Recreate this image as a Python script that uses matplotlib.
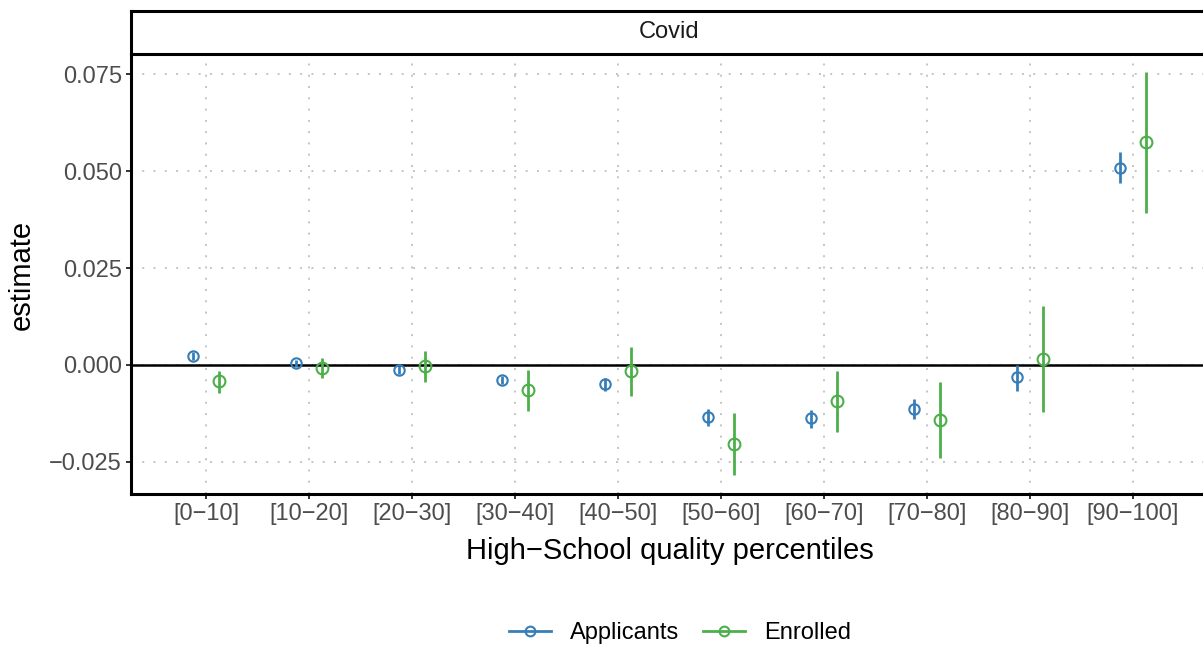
import matplotlib
matplotlib.use("Agg")
import matplotlib.pyplot as plt
from matplotlib.lines import Line2D
import numpy as np

plt.rcParams['font.family'] = ['Liberation Sans', 'DejaVu Sans']

categories = ["[0−10]", "[10−20]", "[20−30]", "[30−40]", "[40−50]",
              "[50−60]", "[60−70]", "[70−80]", "[80−90]", "[90−100]"]

app_est = [0.0024, 0.0004, -0.0013, -0.0038, -0.0050, -0.0135, -0.0138, -0.0114, -0.0032, 0.0509]
app_lo = [0.0014, -0.0005, -0.0023, -0.0048, -0.0066, -0.0157, -0.0162, -0.0140, -0.0066, 0.0468]
app_hi = [0.0034, 0.0013, -0.0003, -0.0028, -0.0034, -0.0114, -0.0116, -0.0088, 0.0000, 0.0550]

enr_est = [-0.0042, -0.0008, -0.0004, -0.0065, -0.0016, -0.0204, -0.0094, -0.0141, 0.0016, 0.0576]
enr_lo = [-0.0072, -0.0034, -0.0045, -0.0118, -0.0081, -0.0284, -0.0174, -0.0239, -0.0122, 0.0393]
enr_hi = [-0.0015, 0.0017, 0.0035, -0.0013, 0.0046, -0.0124, -0.0016, -0.0045, 0.0152, 0.0755]

yticks = [-0.025, 0.0, 0.025, 0.05, 0.075]
ytick_labels = ["−0.025", "0.000", "0.025", "0.050", "0.075"]

BLUE = "#377EB8"
GREEN = "#4DAF4A"
W, H = 1203, 649
fig = plt.figure(figsize=(W / 100, H / 100), dpi=100)

x0, x1 = 131, 1208
ytop, ybot = 55, 494
ax = fig.add_axes([x0 / W, 1 - ybot / H, (x1 - x0) / W, (ybot - ytop) / H])
xs = np.arange(1, len(categories) + 1)
ax.set_xlim(1 - 75 / 103, len(categories) + 75 / 103)
ax.set_ylim(-0.03329, 0.07994)

grid_kw = dict(color="#C4C4C4", lw=1.4, ls=(0, (1, 4.8)), zorder=0)
for yv in yticks:
    ax.axhline(yv, **grid_kw)
for xv in xs:
    ax.axvline(xv, **grid_kw)
ax.axhline(0, color="black", lw=1.8, zorder=1)

dodge = 0.125
for est, lo, hi, col, off, ms in [(app_est, app_lo, app_hi, BLUE, -dodge, 7.5),
                                  (enr_est, enr_lo, enr_hi, GREEN, dodge, 8.5)]:
    xp = xs + off
    ax.vlines(xp, lo, hi, color=col, lw=2.0, zorder=3)
    ax.plot(xp, est, ls="none", marker="o", ms=ms, mfc="none", mec=col, mew=1.5, zorder=4)

ax.set_xticks(xs)
ax.set_xticklabels(categories)
ax.set_yticks(yticks)
ax.set_yticklabels(ytick_labels)
ax.tick_params(axis="both", colors="#333333", length=3.6, width=1.4, labelsize=17,
               labelcolor="#4D4D4D", pad=3)
for s in ["top", "right"]:
    ax.spines[s].set_visible(False)
for s in ["left", "bottom"]:
    ax.spines[s].set_linewidth(2.2)
    ax.spines[s].set_color("black")

fig.text(669.5 / W, 1 - 551 / H, "High−School quality percentiles", ha="center", va="center",
         fontsize=21, color="black")
fig.text(22 / W, 1 - 274.5 / H, "estimate", ha="center", va="center", rotation=90,
         fontsize=21, color="black")

# strip
sax = fig.add_axes([x0 / W, 1 - 54 / H, (x1 - x0) / W, (54 - 11) / H])
sax.set_xticks([])
sax.set_yticks([])
for s in sax.spines.values():
    s.set_linewidth(2.2)
    s.set_color("black")
sax.set_facecolor("white")
sax.text(0.5, 0.5, "Covid", ha="center", va="center", fontsize=17, color="#1A1A1A",
         transform=sax.transAxes)

handles = [Line2D([], [], color=BLUE, lw=2.0, marker="o", ms=7, mfc="none", mew=1.5),
           Line2D([], [], color=GREEN, lw=2.0, marker="o", ms=7, mfc="none", mew=1.5)]
fig.legend(handles, ["Applicants", "Enrolled"], loc="center", bbox_to_anchor=(680 / W, 1 - 633 / H),
           ncol=2, frameon=False, fontsize=17, handlelength=1.8, handletextpad=0.8,
           columnspacing=1.0)

fig.savefig("out.png", dpi=100)
